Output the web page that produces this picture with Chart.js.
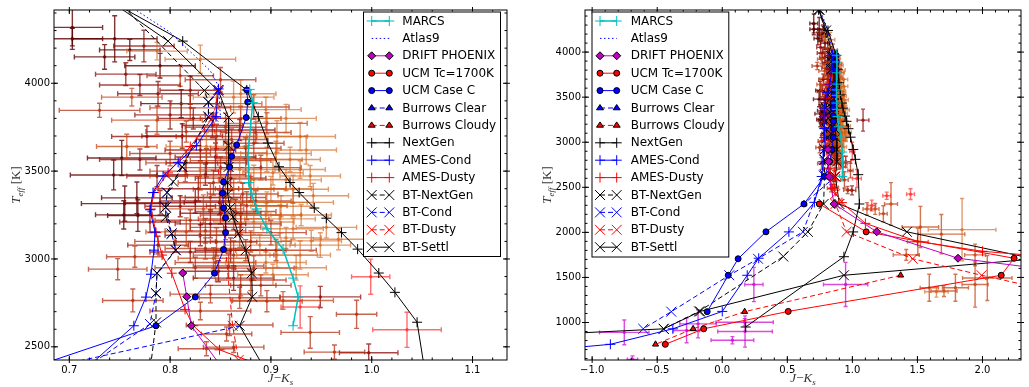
<!DOCTYPE html>
<html>
<head>
<meta charset="utf-8">
<script src="https://cdn.jsdelivr.net/npm/chart.js@4.4.1/dist/chart.umd.min.js"></script>
<style>
  html, body { margin: 0; padding: 0; background: #fff; }
  #wrap { position: relative; width: 1029px; height: 387px; }
  .panel { position: absolute; top: 0; }
</style>
</head>
<body>
<div id="wrap">
  <canvas id="cLeft" class="panel" style="left:0" width="515" height="387"></canvas>
  <canvas id="cRight" class="panel" style="left:515px" width="514" height="387"></canvas>
</div>
<script>
// ---- model tracks [J-Ks, Teff] ----
const marcs = [[0.879,3965],[0.882,3890],[0.880,3770],[0.878,3645],[0.877,3580],[0.878,3520],[0.878,3435],
  [0.881,3365],[0.886,3285],[0.896,3172],[0.912,3056],[0.922,2891],[0.927,2784],[0.922,2620]];
const atlas9 = [[0.757,4450],[0.800,4290],[0.840,4070],[0.847,3995],[0.849,3900],[0.850,3800]];
const driftPhoenix = [[0.8125,2920],[0.8165,2785],[0.821,2620],[0.860,2315],[1.187,2006],[1.812,1713],[2.6,1570]];
const ucmTc = [[0.746,2315],[1.106,2006],[2.243,1713],[2.144,1524],[0.507,1123],[-0.143,930],[-0.438,758]];
const ucmCaseC = [[0.876,3962],[0.877,3893],[0.8755,3805],[0.866,3649],[0.861,3584],[0.859,3524],[0.853,3438],
  [0.852,3374],[0.853,3290],[0.855,3234],[0.855,3150],[0.853,3054],[0.844,2919],[0.825,2784],[0.786,2620],
  [0.628,2315],[0.336,2006],[0.122,1707],[0.046,1524],[-0.116,1120]];
const burrowsClear = [[0.870,2620],[0.714,2425],[0.628,2315]];
const burrowsCloudy = [[1.371,1524],[0.172,1120],[-0.224,930],[-0.513,758]];
const nextGen = [[0.740,4470],[0.8125,4240],[0.876,3962],[0.8875,3810],[0.897,3660],[0.908,3525],[0.919,3435],
  [0.928,3378],[0.943,3290],[0.955,3232],[0.970,3150],[0.986,3056],[1.007,2920],[1.023,2810],[1.045,2640],
  [1.054,2315],[1.006,2005],[0.935,1730],[0.180,950]];
const amesCond = [[0.848,3968],[0.8455,3810],[0.826,3645],[0.808,3550],[0.793,3472],[0.783,3378],[0.780,3280],
  [0.785,3153],[0.784,3050],[0.781,2913],[0.776,2783],[0.764,2620],[0.708,2333],[0.512,2005],[0.280,1713],
  [0.192,1524],[0.0,1123],[-0.38,930],[-0.86,758],[-1.3,700]];
const amesDusty = [[0.843,3809],[0.820,3640],[0.798,3490],[0.784,3378],[0.781,3284],[0.786,3150],[0.792,3022],
  [0.8016,2919],[0.8148,2713],[0.823,2620],[0.849,2483],[0.920,2330],[1.10,2100],[1.50,1900],[2.0,1790],[2.5,1730]];
const btNextGen = [[0.748,4470],[0.834,3959],[0.838,3893],[0.838,3809],[0.812,3524],[0.803,3440],[0.797,3378],
  [0.7956,3294],[0.7956,3238],[0.8015,3144],[0.8056,3050],[0.787,2919],[0.786,2805],[0.786,2639],[0.779,2315],
  [0.658,2006],[0.469,1732],[-0.178,1123],[-0.45,930]];
const btCond = [[0.848,3962],[0.838,3893],[0.838,3809],[0.812,3524],[0.797,3378],[0.7956,3294],[0.8015,3144],
  [0.8056,3050],[0.787,2919],[0.786,2805],[0.780,2630],[0.620,2006],[0.275,1707],[0.054,1524],[-0.392,1120],[-0.607,930]];
const btDusty = [[0.848,3962],[0.843,3809],[0.862,2620],[0.868,2425],[0.870,2315],[0.955,2006],[1.464,1707],
  [1.993,1524],[2.6,1330]];
const btSettl = [[0.740,4470],[0.798,4240],[0.848,3955],[0.858,3805],[0.858,3644],[0.858,3524],[0.857,3434],
  [0.857,3369],[0.8595,3290],[0.8625,3238],[0.8676,3144],[0.875,3050],[0.881,2919],[0.8815,2784],[0.869,2620],
  [0.900,2315],[1.419,2006],[2.40,1705],[0.935,1524],[-0.17,1123],[-0.45,930],[-1.3,870]];

// ---- observed objects [J-Ks, Teff, err(J-Ks), err(Teff)] ----
const obsMaroon = [[0.703,4318,0.030,105],[0.745,4253,0.042,131],[0.703,4253,0.030,60],[0.752,3575,0.034,100],
  [0.744,3478,0.043,85],[0.755,3315,0.043,100],[0.767,3348,0.035,90],[0.754,3251,0.028,80],[0.768,3247,0.030,90],
  [0.811,3884,0.040,80],[0.760,4190,0.030,60],[0.735,4150,0.030,70],[0.790,4100,0.035,70]];
const obsDarkRed = [[0.774,4212,0.030,90],[0.756,4052,0.030,65],[0.788,3940,0.040,70],[0.777,3697,0.035,60],
  [0.770,3566,0.040,60],[0.787,3472,0.030,60],[0.780,3210,0.030,60],[0.788,3079,0.030,50],[0.869,3734,0.035,60],
  [0.836,3547,0.040,80],[0.849,3322,0.035,70],[0.830,3135,0.035,60],[0.863,2891,0.040,70],[0.997,2466,0.029,50],
  [0.949,2784,0.040,60],[1.082,3245,0.045,122],[0.823,3800,0.035,60],[0.842,3760,0.030,70],[0.828,3400,0.040,70],
  [0.810,3300,0.035,60],[0.790,3320,0.035,70],[0.820,3960,0.030,80],[0.812,3700,0.040,70],[0.830,3620,0.035,60],
  [0.845,3580,0.040,80],[0.860,3460,0.035,70],[0.835,3480,0.040,60],[0.825,3330,0.035,70],[0.850,3260,0.040,60],
  [0.840,3200,0.035,80],[0.870,3200,0.040,60],[0.860,3050,0.035,70],[0.820,3040,0.040,60],[0.848,2930,0.035,60],
  [0.770,3990,0.040,60],[0.800,3820,0.035,80]];
const obsRedBrown = [[0.730,3846,0.040,40],[0.810,4043,0.033,60],[0.816,3725,0.040,60],[0.816,3547,0.040,70],
  [0.765,3013,0.028,60],[0.748,2942,0.029,60],[0.763,2764,0.030,65],[0.883,3865,0.035,70],[0.883,3659,0.030,80],
  [0.846,3697,0.040,70],[0.843,3434,0.035,70],[0.876,3303,0.040,80],[0.863,3228,0.035,60],[0.846,3097,0.040,80],
  [0.863,3022,0.040,80],[0.883,2948,0.040,70],[0.859,2624,0.043,60],[0.836,2489,0.028,40],[0.863,2498,0.030,30],
  [0.963,2470,0.030,40],[0.939,2582,0.029,90],[0.985,2685,0.020,80],[0.830,2704,0.050,50],[0.869,2779,0.040,60],
  [0.896,2760,0.035,60],[0.856,2573,0.025,40],[0.861,3680,0.035,60],[0.875,3570,0.030,70],[0.850,3520,0.040,60],
  [0.872,3370,0.035,60],[0.840,3350,0.030,80],[0.865,3270,0.040,70],[0.820,3220,0.035,60],[0.855,3180,0.035,70],
  [0.835,3060,0.040,60],[0.880,3100,0.040,60],[0.858,2960,0.035,70],[0.825,2950,0.040,60],[0.870,2850,0.035,60],
  [0.840,2800,0.040,50],[0.890,2850,0.030,60],[0.800,3600,0.040,70],[0.850,4020,0.035,70],[0.805,3100,0.040,60],
  [0.870,3800,0.040,70],[0.885,3720,0.035,60],[0.855,3750,0.040,80],[0.875,3630,0.035,60],[0.890,3520,0.040,70],
  [0.860,3560,0.040,60],[0.880,3400,0.035,70],[0.855,3350,0.040,80],[0.885,3330,0.035,60],[0.870,3250,0.040,70],
  [0.835,3160,0.040,70],[0.875,3050,0.040,60],[0.845,2980,0.040,70],[0.880,2880,0.035,60],[0.900,3150,0.035,70],
  [0.905,3050,0.040,60],[0.815,3500,0.035,60],[0.820,3860,0.040,70]];
const obsOrangeRed = [[0.762,3921,0.030,50],[0.787,3790,0.045,80],[0.757,3640,0.030,70],[0.830,3472,0.050,80],
  [0.816,3154,0.040,80],[0.846,3884,0.045,80],[0.896,3772,0.040,60],[0.856,3603,0.040,60],[0.863,3397,0.040,60],
  [0.833,3285,0.040,80],[0.869,3135,0.040,70],[0.843,3004,0.035,60],[0.912,2764,0.050,50],[1.297,2315,0.05,237],
  [1.523,2060,0.14,228],[1.684,1980,0.18,219],[1.503,1896,0.08,150],[1.414,1750,0.10,60],[1.943,1750,0.08,120],
  [1.591,1385,0.07,150],[1.704,1349,0.10,60],[1.792,1385,0.10,150],[1.943,1421,0.10,250],[2.037,1494,0.19,250],
  [1.112,2260,0.03,70],[1.175,2260,0.03,60],[1.238,2206,0.03,90]];
const obsOrange = [[0.787,4183,0.030,50],[0.830,4137,0.035,80],[0.836,3640,0.040,80],[0.863,3921,0.040,90],
  [0.906,3697,0.030,90],[0.929,3697,0.035,80],[0.919,3566,0.030,70],[0.939,3472,0.030,60],[0.922,3397,0.035,80],
  [0.896,3566,0.035,70],[0.869,3509,0.040,70],[0.883,3453,0.035,80],[0.902,3491,0.030,70],[0.896,3322,0.040,60],
  [0.883,3210,0.040,70],[0.909,3228,0.035,80],[0.922,3172,0.030,60],[0.889,3079,0.035,60],[0.906,3022,0.040,70],
  [0.902,2910,0.035,60],[0.929,3022,0.030,80],[0.949,3079,0.030,70],[0.967,3112,0.025,60],[0.940,3103,0.030,60],
  [0.922,3322,0.040,80],[0.942,3360,0.035,70],[0.929,3509,0.025,50],[0.895,3850,0.035,70],[0.915,3800,0.030,80],
  [0.905,3600,0.035,70],[0.915,3450,0.035,60],[0.900,3400,0.040,70],[0.910,3300,0.030,60],[0.895,3250,0.035,70],
  [0.930,3250,0.030,60],[0.915,3120,0.035,60],[0.895,2980,0.040,60],[0.925,2950,0.030,70],[0.955,3180,0.030,60],
  [0.935,3620,0.030,80],[0.870,3940,0.035,80],[1.843,2030,0.26,345],[1.646,1341,0.09,60]];
const obsBright = [[0.999,2899,0.019,100],[1.035,2597,0.034,100],[0.929,2727,0.019,120],[1.264,2406,0.03,40],
  [1.447,2424,0.03,60],[1.149,2298,0.03,60]];
const obsMagenta = [[-0.753,890,0.19,137],[-0.274,912,0.10,137],[-0.186,985,0.14,155],[0.078,803,0.164,40],
  [0.175,900,0.21,173],[0.172,1003,0.22,40],[0.243,1422,0.07,190],[0.948,1422,0.17,245],[-0.69,590,0.04,40]];

// ---- axes ----
const leftXTicks = [0.7, 0.8, 0.9, 1.0, 1.1];
const leftYTicks = [2500, 3000, 3500, 4000];
const rightXTicks = [-1.0, -0.5, 0.0, 0.5, 1.0, 1.5, 2.0];
const rightYTicks = [1000, 1500, 2000, 2500, 3000, 3500, 4000];

const OBS_GROUPS = [
  { pts: obsMaroon,    color: 'rgba(95,0,0,0.8)' },
  { pts: obsDarkRed,   color: 'rgba(140,10,5,0.75)' },
  { pts: obsRedBrown,  color: 'rgba(175,35,5,0.7)' },
  { pts: obsOrangeRed, color: 'rgba(195,60,10,0.7)' },
  { pts: obsOrange,    color: 'rgba(210,95,20,0.62)' },
  { pts: obsBright,    color: 'rgba(255,30,30,0.65)' },
  { pts: obsMagenta,   color: 'rgba(205,0,205,0.7)' }
];

const MODELS = [
  { label: 'MARCS', data: marcs, color: '#00bfbf', lw: 1.5, style: 'cross', r: 5 },
  { label: 'Atlas9', data: atlas9, color: '#0000ff', dash: [1.5, 2.5], style: false, r: 0 },
  { label: 'DRIFT PHOENIX', data: driftPhoenix, color: '#bf00bf', style: 'rectRot', r: 4, face: '#bf00bf', edge: '#000' },
  { label: 'UCM Tc=1700K', data: ucmTc, color: '#ff0000', style: 'circle', r: 3, face: '#ff0000', edge: '#000' },
  { label: 'UCM Case C', data: ucmCaseC, color: '#0000ff', style: 'circle', r: 3, face: '#0000ff', edge: '#000' },
  { label: 'Burrows Clear', data: burrowsClear, color: '#0000ff', dash: [5, 3], style: 'triangle', r: [0, 0, 3.5], lr: 3.5, face: '#0000ff', edge: '#000' },
  { label: 'Burrows Cloudy', data: burrowsCloudy, color: '#ff0000', dash: [5, 3], style: 'triangle', r: 3.5, face: '#ff0000', edge: '#000' },
  { label: 'NextGen', data: nextGen, color: '#000000', style: 'cross', r: 5 },
  { label: 'AMES-Cond', data: amesCond, color: '#0000ff', style: 'cross', r: 5 },
  { label: 'AMES-Dusty', data: amesDusty, color: '#ff0000', style: 'cross', r: 5 },
  { label: 'BT-NextGen', data: btNextGen, color: '#000000', dash: [5, 3], style: 'crossRot', r: 7 },
  { label: 'BT-Cond', data: btCond, color: '#0000ff', dash: [5, 3], style: 'crossRot', r: 7 },
  { label: 'BT-Dusty', data: btDusty, color: '#ff0000', dash: [5, 3], style: 'crossRot', r: 7 },
  { label: 'BT-Settl', data: btSettl, color: '#000000', style: 'crossRot', r: 7 }
];

function drawMarker(ctx, style, r, x, y) {
  ctx.beginPath();
  if (style === 'cross') {
    ctx.moveTo(x - r, y); ctx.lineTo(x + r, y); ctx.moveTo(x, y - r); ctx.lineTo(x, y + r); ctx.stroke();
  } else if (style === 'crossRot') {
    const d = r * Math.SQRT1_2;
    ctx.moveTo(x - d, y - d); ctx.lineTo(x + d, y + d); ctx.moveTo(x - d, y + d); ctx.lineTo(x + d, y - d); ctx.stroke();
  } else if (style === 'circle') {
    ctx.arc(x, y, r, 0, Math.PI * 2); ctx.fill(); ctx.stroke();
  } else if (style === 'rectRot') {
    ctx.moveTo(x, y - r); ctx.lineTo(x + r, y); ctx.lineTo(x, y + r); ctx.lineTo(x - r, y); ctx.closePath(); ctx.fill(); ctx.stroke();
  } else if (style === 'triangle') {
    const h = r * 1.5;
    ctx.moveTo(x, y - h * 0.66); ctx.lineTo(x + r, y + h * 0.34); ctx.lineTo(x - r, y + h * 0.34); ctx.closePath(); ctx.fill(); ctx.stroke();
  }
}

const errorBarPlugin = {
  id: 'errorBars',
  beforeDatasetsDraw(chart, args, opts) {
    const { ctx, chartArea: a, scales: { x, y } } = chart;
    const c = opts.cap;
    ctx.save();
    ctx.beginPath(); ctx.rect(a.left, a.top, a.right - a.left, a.bottom - a.top); ctx.clip();
    ctx.lineWidth = 1.4;
    OBS_GROUPS.forEach(g => {
      ctx.strokeStyle = g.color; ctx.fillStyle = g.color;
      g.pts.forEach(([vx, vy, dx, dy]) => {
        const px = x.getPixelForValue(vx), py = y.getPixelForValue(vy);
        const x0 = x.getPixelForValue(vx - dx), x1 = x.getPixelForValue(vx + dx);
        const y0 = y.getPixelForValue(vy - dy), y1 = y.getPixelForValue(vy + dy);
        ctx.beginPath();
        ctx.moveTo(x0, py); ctx.lineTo(x1, py);
        ctx.moveTo(px, y0); ctx.lineTo(px, y1);
        ctx.moveTo(x0, py - c); ctx.lineTo(x0, py + c);
        ctx.moveTo(x1, py - c); ctx.lineTo(x1, py + c);
        ctx.moveTo(px - c, y0); ctx.lineTo(px + c, y0);
        ctx.moveTo(px - c, y1); ctx.lineTo(px + c, y1);
        ctx.stroke();
        ctx.beginPath(); ctx.arc(px, py, 1.7, 0, Math.PI * 2); ctx.fill();
      });
    });
    ctx.restore();
  }
};

function drawPieces(ctx, pieces, cx, cy, rot) {
  ctx.save();
  ctx.translate(cx, cy); ctx.rotate(rot);
  let total = 0;
  pieces.forEach(p => { ctx.font = p.font; p.w = ctx.measureText(p.t).width; total += p.w; });
  let px = -total / 2;
  ctx.fillStyle = '#333'; ctx.textBaseline = 'alphabetic';
  pieces.forEach(p => { ctx.font = p.font; ctx.fillText(p.t, px, p.dy || 0); px += p.w; });
  ctx.restore();
}

const IT = 'italic 13px "Liberation Serif"', SUB = 'italic 9px "Liberation Serif"', UP = '13px "Liberation Serif"';

const framePlugin = {
  id: 'frame',
  afterDatasetsDraw(chart, args, o) {
    const { ctx, chartArea: a, scales: { x, y } } = chart;
    ctx.save();
    ctx.strokeStyle = '#000'; ctx.lineWidth = 1;
    ctx.strokeRect(a.left, a.top, a.right - a.left, a.bottom - a.top);
    ctx.beginPath();
    const xt = (v, inn, out) => {
      const p = x.getPixelForValue(v);
      if (p < a.left || p > a.right) return;
      ctx.moveTo(p, a.bottom + out); ctx.lineTo(p, a.bottom - inn);
      ctx.moveTo(p, a.top - out); ctx.lineTo(p, a.top + inn);
    };
    const yt = (v, inn, out) => {
      const p = y.getPixelForValue(v);
      if (p < a.top || p > a.bottom) return;
      ctx.moveTo(a.left - out, p); ctx.lineTo(a.left + inn, p);
      ctx.moveTo(a.right + out, p); ctx.lineTo(a.right - inn, p);
    };
    o.xTicks.forEach(v => xt(v, 4, 3));
    o.yTicks.forEach(v => yt(v, 4, 3));
    for (let v = o.xMinorFrom; v < x.max; v += o.xMinor) xt(v, 2.5, 0);
    for (let v = o.yMinorFrom; v < y.max; v += o.yMinor) yt(v, 2.5, 0);
    ctx.stroke();
    ctx.restore();
  },
  afterDraw(chart, args, o) {
    const { ctx, chartArea: a } = chart;
    // axis titles
    drawPieces(ctx, [
      { t: 'J', font: IT }, { t: '\u2212', font: UP }, { t: 'K', font: IT }, { t: 's', font: SUB, dy: 3 }
    ], (a.left + a.right) / 2 + o.xTitleShift, 382, 0);
    drawPieces(ctx, [
      { t: 'T', font: IT, dy: 4 }, { t: 'eff', font: SUB, dy: 7 }, { t: ' [K]', font: UP, dy: 4 }
    ], o.yTitleX, 185, -Math.PI / 2);
    // legend
    const L = o.legend;
    ctx.save();
    ctx.fillStyle = '#fff'; ctx.fillRect(L.left, L.top, L.right - L.left, L.bottom - L.top);
    ctx.strokeStyle = '#000'; ctx.lineWidth = 1;
    ctx.strokeRect(L.left + 0.5, L.top + 0.5, L.right - L.left, L.bottom - L.top);
    MODELS.forEach((m, i) => {
      const yy = L.y0 + i * L.step;
      ctx.strokeStyle = m.color; ctx.lineWidth = m.lw || 1; ctx.setLineDash(m.dash || []);
      ctx.beginPath(); ctx.moveTo(L.x0, yy); ctx.lineTo(L.x1, yy); ctx.stroke();
      ctx.setLineDash([]);
      if (m.style) {
        ctx.fillStyle = m.face || m.color; ctx.strokeStyle = m.edge || m.color; ctx.lineWidth = 1;
        const r = m.lr || m.r;
        drawMarker(ctx, m.style, r, L.x0, yy);
        drawMarker(ctx, m.style, r, L.x1, yy);
      }
      ctx.fillStyle = '#000'; ctx.font = '12px "DejaVu Sans"'; ctx.textBaseline = 'middle';
      ctx.fillText(m.label, L.textX, yy + 0.5);
    });
    ctx.restore();
  }
};

function datasets() {
  return MODELS.map(m => ({
    label: m.label,
    data: m.data.map(([x, y]) => ({ x, y })),
    showLine: true,
    borderColor: m.color,
    borderWidth: m.lw || 1,
    borderDash: m.dash || [],
    pointStyle: m.style || false,
    pointRadius: m.r,
    pointBackgroundColor: m.face || m.color,
    pointBorderColor: m.edge || m.color,
    pointBorderWidth: 1,
    fill: false,
    tension: 0
  }));
}

const fmt = v => (v < 0 ? '\u2212' : '') + Math.abs(v).toFixed(1);

function makeChart(id, cfg) {
  return new Chart(document.getElementById(id), {
    type: 'scatter',
    data: { datasets: datasets() },
    plugins: [errorBarPlugin, framePlugin],
    options: {
      responsive: false,
      animation: false,
      events: [],
      layout: { padding: { top: 5, right: cfg.padRight, left: 0, bottom: 0 } },
      plugins: {
        legend: { display: false },
        tooltip: { enabled: false },
        errorBars: { cap: cfg.cap },
        frame: cfg.frame
      },
      scales: {
        x: {
          type: 'linear', min: cfg.xMin, max: cfg.xMax,
          grid: { display: false, drawTicks: false }, border: { display: false },
          afterBuildTicks: s => { s.ticks = cfg.frame.xTicks.map(v => ({ value: v })); },
          afterFit: s => { s.height = 27; },
          ticks: { font: { family: 'DejaVu Sans', size: 10 }, color: '#000', padding: 4, maxRotation: 0, autoSkip: false, callback: v => fmt(v) }
        },
        y: {
          type: 'linear', min: cfg.yMin, max: cfg.yMax,
          grid: { display: false, drawTicks: false }, border: { display: false },
          afterBuildTicks: s => { s.ticks = cfg.frame.yTicks.map(v => ({ value: v })); },
          afterFit: s => { s.width = cfg.yWidth; },
          ticks: { font: { family: 'DejaVu Sans', size: 10 }, color: '#000', padding: 4, autoSkip: false, callback: v => String(v) }
        }
      }
    }
  });
}

makeChart('cLeft', {
  xMin: 0.6848, xMax: 1.1342, yMin: 2425, yMax: 4417, yWidth: 54, padRight: 8, cap: 2.5,
  frame: {
    xTicks: leftXTicks, yTicks: leftYTicks, xMinor: 0.02, xMinorFrom: 0.70, yMinor: 100, yMinorFrom: 2500,
    xTitleShift: 0, yTitleX: 16,
    legend: { left: 363, top: 11.5, right: 500, bottom: 256, x0: 371.7, x1: 389.3, textX: 402.3, y0: 21, step: 17.4 }
  }
});

makeChart('cRight', {
  xMin: -1.055, xMax: 2.296, yMin: 584, yMax: 4467, yWidth: 70, padRight: 1, cap: 2,
  frame: {
    xTicks: rightXTicks, yTicks: rightYTicks, xMinor: 0.1, xMinorFrom: -1.0, yMinor: 100, yMinorFrom: 600,
    xTitleShift: 0, yTitleX: 32,
    legend: { left: 76.5, top: 11.5, right: 213.3, bottom: 256.5, x0: 85, x1: 101.7, textX: 115.7, y0: 21, step: 17.4 }
  }
});
</script>
</body>
</html>
